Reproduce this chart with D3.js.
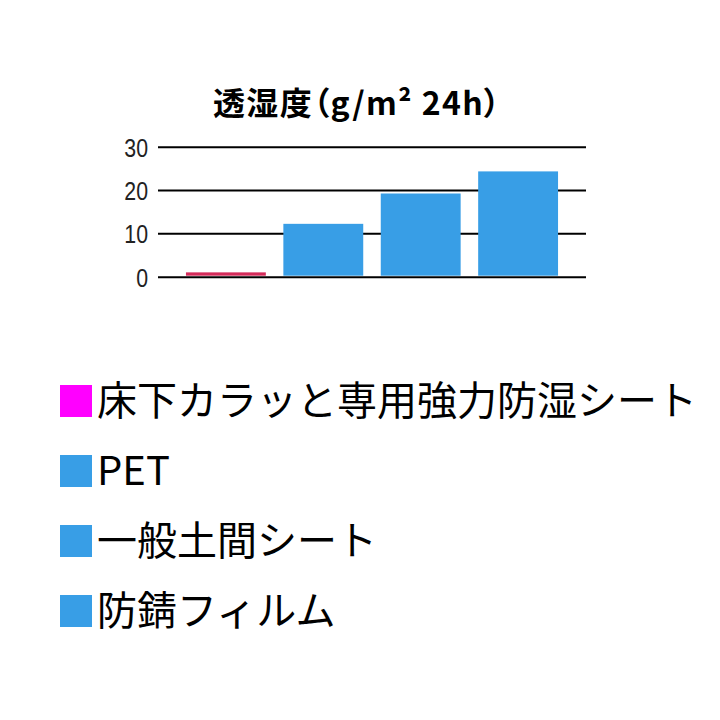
<!DOCTYPE html>
<html lang="ja">
  <head>
    <meta charset="utf-8">
    <title>透湿度</title>
    <script src="https://d3js.org/d3.v7.min.js"></script>
    <style>
    body {margin: 0; background: white;}
    .title {font-family: "Noto Sans CJK JP"; font-weight: bold; font-feature-settings: "palt";}
    .yAxis text {font-family: "Liberation Sans"; fill: #222;}
    .legend-label {font-family: "Noto Sans CJK JP";}
    </style>
  </head>
  <body>
  <script>

  // data
  var categories = ["床下カラッと専用強力防湿シート", "PET", "一般土間シート", "防錆フィルム"];
  var values = [1.0, 12.2, 19.2, 24.3];
  var barColors = ["#d42b5a", "#389ee6", "#389ee6", "#389ee6"];
  var legendColors = ["#ff00ff", "#389ee6", "#389ee6", "#389ee6"];
  var yTicks = [0, 10, 20, 30];
  var titleText = "透湿度（g/m² 24h）";

  var w = 720;
  var h = 720;
  var plot = {left: 158, right: 586, top: 146.7, bottom: 276.7};
  var squeeze = 0.82; // tick labels are a narrow face

  var svg = d3.select("body")
      .append("svg")
      .attr("width", w)
      .attr("height", h);

  svg.append("rect")
      .attr("width", w)
      .attr("height", h)
      .attr("fill", "white");

  var xScale = d3.scaleBand()
      .domain(categories)
      .range([plot.left, plot.right])
      .paddingInner(0.18)
      .paddingOuter(0.287);

  var yScale = d3.scaleLinear()
      .domain([0, 30])
      .range([plot.bottom, plot.top]);

  // title
  svg.append("text")
      .attr("class", "title")
      .attr("x", 213)
      .attr("y", 115)
      .attr("textLength", 287)
      .attr("lengthAdjust", "spacing")
      .style("font-size", "32px")
      .text(titleText);

  // gridlines + labels
  var yAxis = d3.axisLeft(yScale)
      .tickValues(yTicks)
      .tickSize(-(plot.right - plot.left))
      .tickPadding(10);

  var gy = svg.append("g")
      .attr("class", "yAxis")
      .attr("transform", `translate(${plot.left},0)`)
      .call(yAxis);
  gy.select(".domain").remove();
  gy.selectAll("line")
      .attr("stroke", "black")
      .attr("stroke-width", 2);
  gy.selectAll("text")
      .style("font-size", "26px")
      .attr("x", -10 / squeeze)
      .attr("dy", "0.36em")
      .attr("transform", `scale(${squeeze},1)`);

  // bars
  svg.selectAll(".bar")
      .data(values)
      .join("rect")
      .attr("class", "bar")
      .attr("x", (d, i) => xScale(categories[i]))
      .attr("y", d => yScale(d))
      .attr("width", xScale.bandwidth())
      .attr("height", d => yScale(0) - 1 - yScale(d))
      .attr("fill", (d, i) => barColors[i]);

  // legend
  var legend = svg.selectAll(".legend")
      .data(categories)
      .join("g")
      .attr("class", "legend")
      .attr("transform", (d, i) => `translate(60, ${385 + i * 70})`);

  legend.append("rect")
      .attr("width", 32)
      .attr("height", 32)
      .attr("fill", (d, i) => legendColors[i]);

  legend.append("text")
      .attr("class", "legend-label")
      .attr("x", 37)
      .attr("y", 30)
      .style("font-size", "40px")
      .text(d => d);

  </script>
  </body>
</html>
